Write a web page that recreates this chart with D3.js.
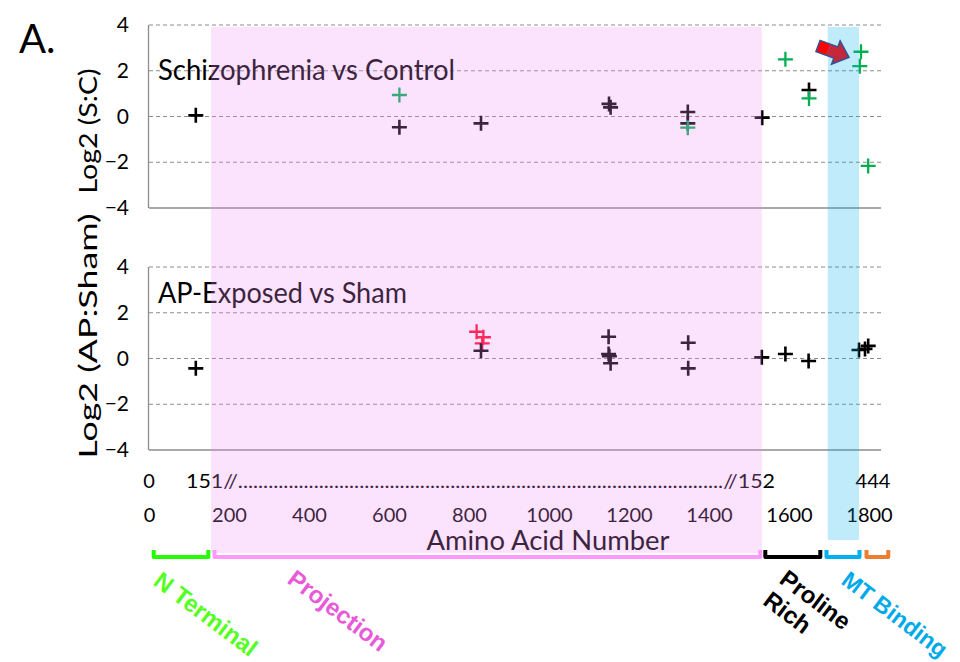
<!DOCTYPE html>
<html>
<head>
<meta charset="utf-8">
<script src="https://cdn.jsdelivr.net/npm/d3@7"></script>
<style>
  body { margin: 0; background: #fff; }
  svg { display: block; font-family: Lato, "Open Sans", sans-serif; }
</style>
</head>
<body>
<div id="chart"></div>
<script>
// schizophrenia vs control (amino acid position, log2 ratio, group)
const scAA    = [117, 626, 626, 830, 1150, 1154, 1347, 1347, 1347, 1533, 1591, 1650, 1650, 1780, 1777, 1798];
const scLog2  = [0.05, 0.94, -0.47, -0.3, 0.55, 0.4, 0.2, -0.3, -0.49, -0.05, 2.5, 1.16, 0.79, 2.83, 2.2, -2.16];
const scGroup = ["ns", "sig", "ns", "ns", "ns", "ns", "ns", "ns", "sig", "ns", "sig", "ns", "sig", "sig", "sig", "sig"];

// AP-exposed vs sham
const apAA    = [117, 819, 836, 833, 830, 1149, 1149, 1151, 1154, 1348, 1348, 1532, 1591, 1649, 1775, 1790, 1798];
const apLog2  = [-0.43, 1.17, 0.93, 0.66, 0.34, 0.95, 0.2, 0.1, -0.21, 0.69, -0.43, 0.05, 0.2, -0.11, 0.37, 0.42, 0.55];
const apGroup = ["ns", "up", "up", "up", "ns", "ns", "ns", "ns", "ns", "ns", "ns", "ns", "ns", "ns", "ns", "ns", "ns"];

// protein domains
const domainNames = ["N Terminal", "Projection", "Proline Rich", "MT Binding", "C Terminal"];
const domainStart = [8, 160, 1537, 1690, 1790];
const domainEnd   = [152, 1532, 1682, 1780, 1852];

const xTicks = [0, 200, 400, 600, 800, 1000, 1200, 1400, 1600, 1800];
const yTicks = [-4, -2, 0, 2, 4];
const projectionBand = [155, 1532];
const mtBand = [1697, 1775];

const W = 960, H = 662;
const svg = d3.select("#chart").append("svg").attr("width", W).attr("height", H);

const x = d3.scaleLinear().domain([0, 1830]).range([149, 881]);
const yTop = d3.scaleLinear().domain([-4, 4]).range([208, 25]);
const yBot = d3.scaleLinear().domain([-4, 4]).range([450, 267]);

const groupColor = {ns: "#000000", sig: "#00b050", up: "#ff0a2a"};

function drawPanel(y, aa, vals, groups, title, titleY, titleLen, yLabel, yLabelCenter, yLabelLen) {
    let g = svg.append("g");

    // dashed grid
    g.selectAll(".grid").data(yTicks.filter(d => d > -4)).enter().append("line")
        .attr("x1", x(0)).attr("x2", x(1830))
        .attr("y1", d => y(d)).attr("y2", d => y(d))
        .attr("stroke", "#8c8c8c").attr("stroke-width", 1)
        .attr("stroke-dasharray", "4,3");

    g.append("line")
        .attr("x1", x(0)).attr("x2", x(1830))
        .attr("y1", y(-4)).attr("y2", y(-4))
        .attr("stroke", "#8c8c8c").attr("stroke-width", 1.3);
    g.append("line")
        .attr("x1", x(0) - 0.5).attr("x2", x(0) - 0.5)
        .attr("y1", y(4)).attr("y2", y(-4))
        .attr("stroke", "#8c8c8c").attr("stroke-width", 1.3);

    let axis = g.append("g")
        .attr("transform", `translate(${x(0)},0)`)
        .call(d3.axisLeft(y).tickValues(yTicks).tickSize(0).tickPadding(20));
    axis.select(".domain").remove();
    axis.selectAll("text")
        .style("font-family", "Lato, sans-serif")
        .style("font-size", "21px")
        .attr("fill", "#000");

    g.append("text")
        .attr("transform", `translate(97,${yLabelCenter}) rotate(-90)`)
        .attr("text-anchor", "middle")
        .attr("textLength", yLabelLen).attr("lengthAdjust", "spacingAndGlyphs")
        .style("font-size", "25px")
        .text(yLabel);

    g.append("text")
        .attr("x", 158).attr("y", titleY)
        .attr("textLength", titleLen).attr("lengthAdjust", "spacingAndGlyphs")
        .style("font-size", "28px")
        .text(title);

    let pts = aa.map((d, i) => ({aa: d, v: vals[i], grp: groups[i]}));
    let s = 7.5;
    g.selectAll(".pt").data(pts).enter().append("path")
        .attr("class", "pt")
        .attr("d", d => `M${x(d.aa) - s},${y(d.v)}H${x(d.aa) + s}M${x(d.aa)},${y(d.v) - s}V${y(d.v) + s}`)
        .attr("stroke", d => groupColor[d.grp])
        .attr("stroke-width", d => d.grp === "ns" ? 2.6 : 2.3);
}

drawPanel(yTop, scAA, scLog2, scGroup, "Schizophrenia vs Control", 80, 297, "Log2 (S:C)", 131, 125);
drawPanel(yBot, apAA, apLog2, apGroup, "AP-Exposed vs Sham", 303, 249, "Log2 (AP:Sham)", 336, 245);

// panel letter
svg.append("text").attr("x", 19).attr("y", 53)
    .style("font-size", "40px").text("A.");

// x axis, real amino acid numbers
let xAxis = svg.append("g")
    .attr("transform", "translate(0,500)")
    .call(d3.axisBottom(x).tickValues(xTicks).tickFormat(d3.format("d")).tickSize(0).tickPadding(8));
xAxis.select(".domain").remove();
xAxis.selectAll("text")
    .style("font-family", "Lato, sans-serif")
    .style("font-size", "20px")
    .attr("fill", "#000");

// broken axis labels above
const breakRow = svg.append("g").style("font-size", "20px");
breakRow.append("text").attr("x", x(0)).attr("y", 488).attr("text-anchor", "middle").text("0");
breakRow.append("text").attr("x", 186).attr("y", 488)
    .attr("textLength", 589).attr("lengthAdjust", "spacingAndGlyphs")
    .text("151//" + ".".repeat(96) + "//152");
breakRow.append("text").attr("x", 873).attr("y", 488).attr("text-anchor", "middle").text("444");

svg.append("text").attr("x", 548).attr("y", 550)
    .attr("text-anchor", "middle")
    .attr("textLength", 243).attr("lengthAdjust", "spacingAndGlyphs")
    .style("font-size", "26px")
    .text("Amino Acid Number");

// translucent highlight bands on top
svg.append("rect")
    .attr("x", x(projectionBand[0])).attr("y", 27)
    .attr("width", x(projectionBand[1]) - x(projectionBand[0])).attr("height", 526)
    .attr("fill", "#f08cf8").attr("opacity", 0.25);
svg.append("rect")
    .attr("x", x(mtBand[0])).attr("y", 27)
    .attr("width", x(mtBand[1]) - x(mtBand[0])).attr("height", 513)
    .attr("fill", "#00b0f0").attr("opacity", 0.25);

// red arrow pointing at the MT binding hits
const grad = svg.append("defs").append("linearGradient").attr("id", "arrowGrad");
grad.append("stop").attr("offset", "0%").attr("stop-color", "#ff0000");
grad.append("stop").attr("offset", "30%").attr("stop-color", "#ff0000");
grad.append("stop").attr("offset", "31%").attr("stop-color", "#c8283a");
grad.append("stop").attr("offset", "100%").attr("stop-color", "#c0283c");
svg.append("path")
    .attr("transform", "translate(818,46) rotate(20)")
    .attr("d", "M0,-6H19V-12.5L33,0L19,12.5V6H0Z")
    .attr("fill", "url(#arrowGrad)")
    .attr("stroke", "#2f5597").attr("stroke-width", 1.5);

// domain brackets
const barColor = ["#22ff00", "#ff99ff", "#000000", "#00b0f0", "#ed7d31"];
const bars = domainNames.map((d, i) => ({name: d, a: domainStart[i], b: domainEnd[i], c: barColor[i]}));
svg.selectAll(".dom").data(bars).enter().append("path")
    .attr("class", "dom")
    .attr("d", d => {
        let a = x(d.a) + 1.5, b = x(d.b) - 1.5;
        return `M${a},550V557H${b}V550`;
    })
    .attr("fill", "none")
    .attr("stroke", d => d.c)
    .attr("stroke-width", 4)
    .attr("stroke-linejoin", "round");

// rotated domain labels
const labels = [
    {t: ["N Terminal"], x: 152, y: 584, c: "#55ff22", fs: 24},
    {t: ["Projection"], x: 286, y: 582, c: "#e85ad8", fs: 24},
    {t: ["Proline", "Rich"], x: 778, y: 582, c: "#000000", fs: 24},
    {t: ["MT Binding"], x: 840, y: 583, c: "#00aaea", fs: 23}
];
labels.forEach(l => {
    let t = svg.append("text")
        .attr("transform", `translate(${l.x},${l.y}) rotate(37)`)
        .attr("fill", l.c)
        .style("font-family", "'Liberation Sans', Arial, sans-serif")
        .style("font-weight", "bold")
        .style("font-size", l.fs + "px");
    l.t.forEach((line, i) => {
        t.append("tspan")
            .attr("x", 0)
            .attr("y", i * 27)
            .text(line);
    });
});
</script>
</body>
</html>
